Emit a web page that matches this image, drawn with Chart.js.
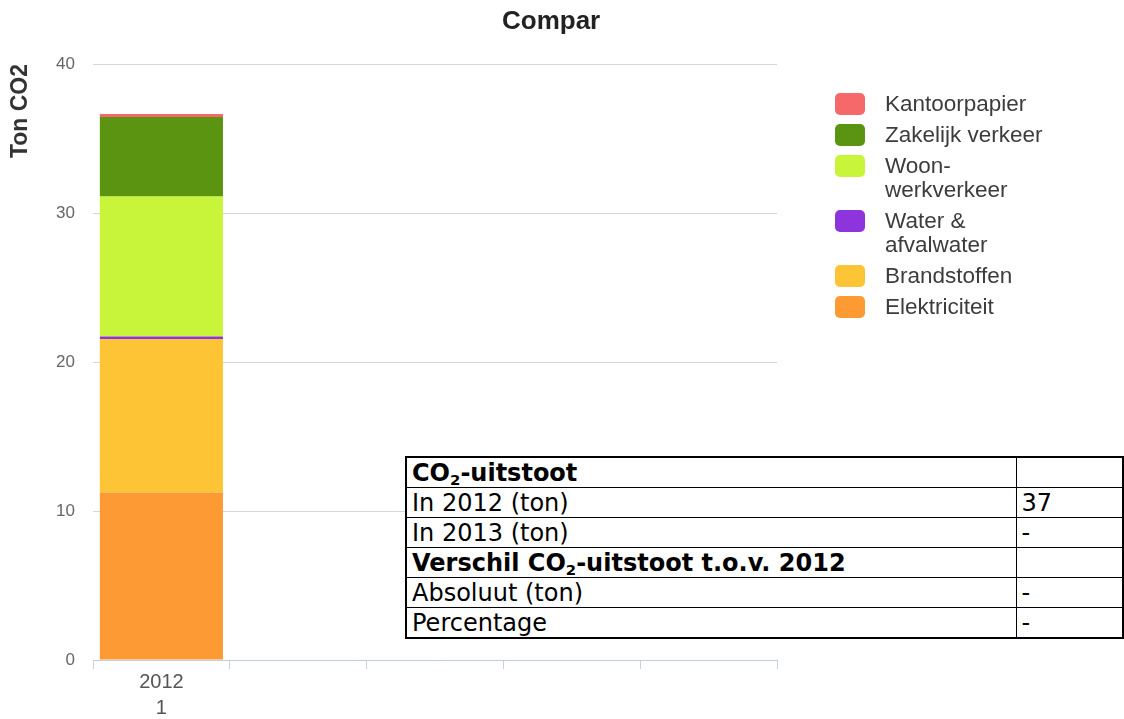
<!DOCTYPE html>
<html>
<head>
<meta charset="utf-8">
<script src="https://cdn.jsdelivr.net/npm/chart.js@4/dist/chart.umd.min.js"></script>
<style>
  html, body { margin: 0; padding: 0; background: #fff; }
  #wrap { position: relative; width: 1124px; height: 719px; overflow: hidden; }
  #c { position: absolute; left: 0; top: 0; }
  #tbl {
    position: absolute; left: 405px; top: 456px; width: 717px;
    border-collapse: collapse; background: #fff; table-layout: fixed;
    font-family: 'DejaVu Sans', Verdana, sans-serif; font-size: 24px; color: #000;
    border: 2px solid #000;
  }
  #tbl td { border: 1.5px solid #000; height: 29px; padding: 0 0 0 5px; line-height: 28px; white-space: nowrap; overflow: hidden; }
  #tbl col.a { width: 610px; }
  #tbl col.b { width: 107px; }
  #tbl sub { font-size: 0.62em; vertical-align: -0.28em; line-height: 0; }
</style>
</head>
<body>
<div id="wrap">
  <canvas id="c" width="1124" height="719"></canvas>
  <table id="tbl"><colgroup><col class="a"><col class="b"></colgroup><tbody id="tb"></tbody></table>
</div>
<script>
// ---- data ----
const categories = [["2012", "1"], "", "", "", ""];
const seriesNames = ["Elektriciteit", "Brandstoffen", "Water & afvalwater", "Woon-werkverkeer", "Zakelijk verkeer", "Kantoorpapier"];
const elektriciteit   = [11.25, null, null, null, null];
const brandstoffen    = [10.3,  null, null, null, null];
const waterAfvalwater = [0.16,  null, null, null, null];
const woonWerkverkeer = [9.39,  null, null, null, null];
const zakelijkVerkeer = [5.35,  null, null, null, null];
const kantoorpapier   = [0.2,   null, null, null, null];
const seriesColors = ["#fd9a34", "#fdc536", "#8e34dc", "#c8f53a", "#5b9410", "#f5696b"];
const legendLabelLines = [["Elektriciteit"], ["Brandstoffen"], ["Water &", "afvalwater"], ["Woon-", "werkverkeer"], ["Zakelijk verkeer"], ["Kantoorpapier"]];
const yTickValues = [0, 10, 20, 30, 40];
const titleText = "Compar";
const yAxisTitle = "Ton CO2";
const tableRows = [
  ["<b>CO<sub>2</sub>-uitstoot</b>", ""],
  ["In 2012 (ton)", "37"],
  ["In 2013 (ton)", "-"],
  ["<b>Verschil CO<sub>2</sub>-uitstoot t.o.v. 2012</b>", ""],
  ["Absoluut (ton)", "-"],
  ["Percentage", "-"]
];

// ---- table ----
const tb = document.getElementById('tb');
tableRows.forEach(r => {
  const tr = document.createElement('tr');
  const a = document.createElement('td'); a.innerHTML = r[0];
  const b = document.createElement('td'); b.textContent = r[1];
  tr.appendChild(a); tr.appendChild(b); tb.appendChild(tr);
});

// ---- chart ----
const seriesData = [elektriciteit, brandstoffen, waterAfvalwater, woonWerkverkeer, zakelijkVerkeer, kantoorpapier];
const FONT = "'Liberation Sans', Arial, Helvetica, sans-serif";
Chart.defaults.font.family = FONT;

const titlePlugin = {
  id: 'customTitle',
  afterDraw(chart) {
    const ctx = chart.ctx;
    ctx.save();
    ctx.font = "bold 26px " + FONT;
    ctx.fillStyle = "#222";
    ctx.textAlign = "left";
    ctx.textBaseline = "middle";
    ctx.fillText(titleText, 502, 22);
    ctx.restore();
  }
};

const legendPlugin = {
  id: 'customLegend',
  afterDraw(chart) {
    const ctx = chart.ctx;
    ctx.save();
    ctx.font = "22.5px " + FONT;
    ctx.textBaseline = "middle";
    ctx.textAlign = "left";
    let y = 105;
    const ds = chart.data.datasets;
    for (let i = ds.length - 1; i >= 0; i--) {
      const lines = legendLabelLines[i];
      ctx.fillStyle = ds[i].backgroundColor;
      ctx.beginPath();
      ctx.roundRect(835, y - 12, 30, 22, 5);
      ctx.fill();
      ctx.fillStyle = "#3c3c3c";
      lines.forEach((t, k) => ctx.fillText(t, 885, y + k * 24));
      y += 31 + (lines.length - 1) * 24;
    }
    ctx.restore();
  }
};

new Chart(document.getElementById('c'), {
  type: 'bar',
  data: {
    labels: categories,
    datasets: seriesNames.map((n, i) => ({
      label: n,
      data: seriesData[i],
      backgroundColor: seriesColors[i],
      borderWidth: 0,
      barPercentage: 0.9,
      categoryPercentage: 1.0
    }))
  },
  options: {
    responsive: false,
    animation: false,
    devicePixelRatio: 1,
    layout: { padding: { left: 0, right: 347, top: 64, bottom: 0 } },
    plugins: {
      legend: { display: false },
      title: { display: false },
      tooltip: { enabled: false }
    },
    scales: {
      x: {
        stacked: true,
        offset: true,
        grid: { display: true, drawOnChartArea: false, drawTicks: true, tickLength: 9, color: '#c8d4e0', offset: true },
        border: { display: true, color: '#c0cedc', width: 1 },
        ticks: { color: '#555', font: { size: 20, lineHeight: 1.3 }, padding: 0, maxRotation: 0, autoSkip: false },
        afterFit(s) { s.height = 59; }
      },
      y: {
        stacked: true,
        min: 0, max: 40,
        afterBuildTicks(s) { s.ticks = yTickValues.map(v => ({ value: v })); },
        grid: { color: '#d6d6d6', drawTicks: false, lineWidth: 1 },
        border: { display: false },
        ticks: { color: '#666', font: { size: 17 }, padding: 18 },
        title: { display: true, text: yAxisTitle, align: 'end', color: '#333', font: { size: 23, weight: 'bold' }, padding: { top: 7, bottom: 0 } },
        afterFit(s) { s.width = 93; }
      }
    }
  },
  plugins: [titlePlugin, legendPlugin]
});
</script>
</body>
</html>
